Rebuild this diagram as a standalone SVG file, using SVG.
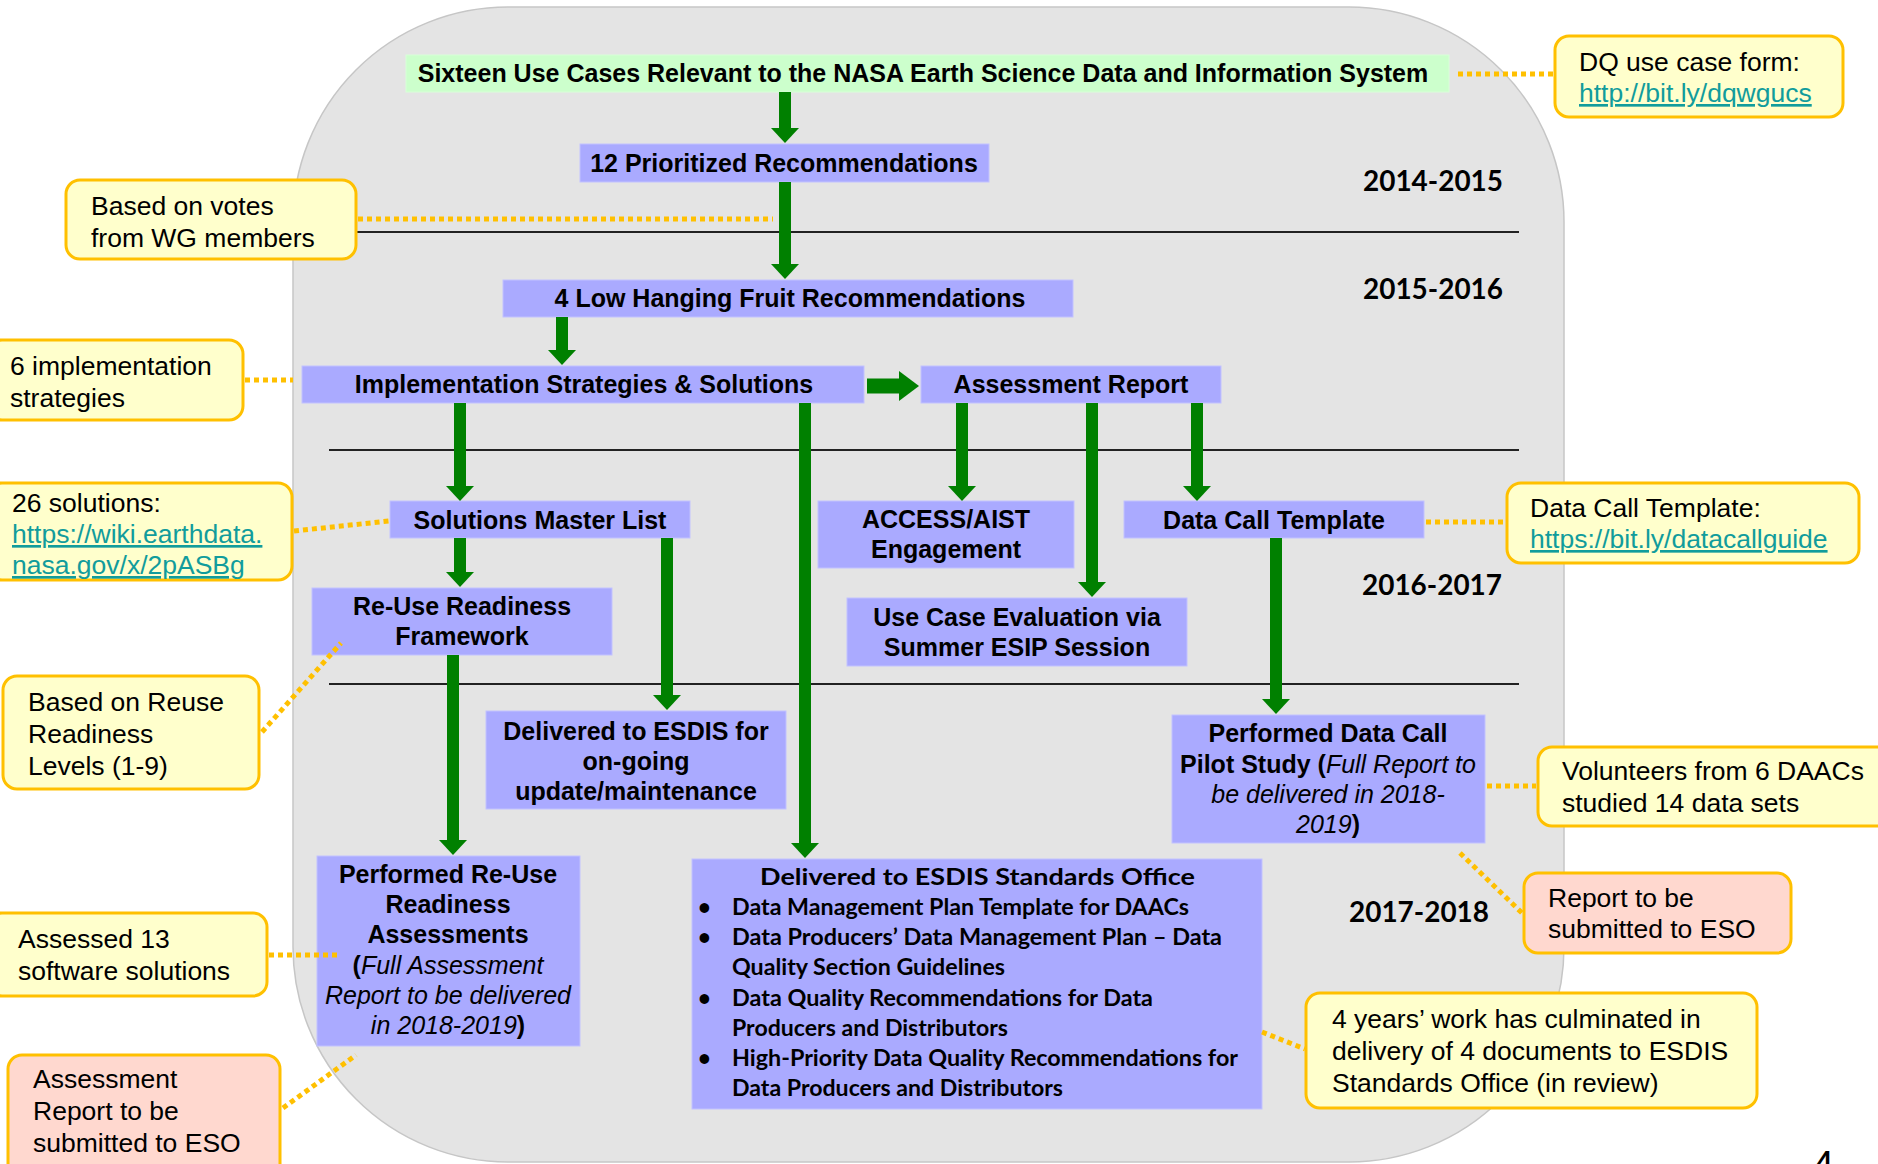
<svg xmlns="http://www.w3.org/2000/svg" width="1878" height="1164" viewBox="0 0 1878 1164">
<defs>
<style>
.bg{fill:#e4e4e4;stroke:#c6c6c6;stroke-width:1.5}
.n{fill:#aaaaff;stroke:#c2c2ff;stroke-width:1}
.g{fill:#ccffcc;stroke:#d8ffd8;stroke-width:1}
.t{font-family:"Liberation Sans",Arial,sans-serif;font-weight:bold;font-size:25px;fill:#000;text-anchor:middle}
.it{font-style:italic;font-weight:normal}
.c{fill:#ffffcc;stroke:#ffc000;stroke-width:3}
.p{fill:#ffd8cf;stroke:#ffc000;stroke-width:3}
.ct{font-family:"Liberation Sans",Arial,sans-serif;font-size:26.5px;fill:#000}
.lk{fill:#119c9c;text-decoration:underline}
.dot{stroke:#ffc000;stroke-width:5;stroke-dasharray:5 4;fill:none}
.ar{stroke:#008000;stroke-width:12;fill:none;marker-end:url(#ah)}
.ar2{stroke:#008000;stroke-width:15;fill:none;marker-end:url(#ah2)}
.hl{stroke:#222;stroke-width:2}
.yr{font-family:Lato,"Liberation Sans",sans-serif;font-weight:bold;font-size:29px;fill:#000;text-anchor:middle}
.cal{font-family:Lato,"Liberation Sans",sans-serif;font-weight:bold;font-size:22px;fill:#000}
</style>
<marker id="ah" markerUnits="userSpaceOnUse" viewBox="0 0 15 28" markerWidth="15" markerHeight="28" refX="0" refY="14" orient="auto"><path d="M0,0 L15,14 L0,28 Z" fill="#008000"/></marker>
<marker id="ah2" markerUnits="userSpaceOnUse" viewBox="0 0 20 30" markerWidth="20" markerHeight="30" refX="0" refY="15" orient="auto"><path d="M0,0 L20,15 L0,30 Z" fill="#008000"/></marker>
</defs>

<rect class="bg" x="293" y="7" width="1271" height="1155" rx="215" ry="215"/>

<g id="dividers">
<line class="hl" x1="357" y1="232" x2="1519" y2="232"/>
<line class="hl" x1="329" y1="450" x2="1519" y2="450"/>
<line class="hl" x1="329" y1="684" x2="1519" y2="684"/>
</g>

<g id="years">
<text class="yr" x="1433" y="191" textLength="140" lengthAdjust="spacingAndGlyphs">2014-2015</text>
<text class="yr" x="1433" y="299" textLength="140" lengthAdjust="spacingAndGlyphs">2015-2016</text>
<text class="yr" x="1432" y="595" textLength="140" lengthAdjust="spacingAndGlyphs">2016-2017</text>
<text class="yr" x="1419" y="922" textLength="140" lengthAdjust="spacingAndGlyphs">2017-2018</text>
</g>

<g id="n-usecases"><rect class="g" x="406" y="55" width="1043" height="37"/><text class="t" x="923" y="82">Sixteen Use Cases Relevant to the NASA Earth Science Data and Information System</text></g>
<g id="n-12rec"><rect class="n" x="580" y="144" width="409" height="38"/><text class="t" x="784" y="172">12 Prioritized Recommendations</text></g>
<g id="n-4low"><rect class="n" x="503" y="280" width="570" height="37"/><text class="t" x="790" y="307">4 Low Hanging Fruit Recommendations</text></g>
<g id="n-impl"><rect class="n" x="302" y="366" width="562" height="37"/><text class="t" x="584" y="393">Implementation Strategies &amp; Solutions</text></g>
<g id="n-assess"><rect class="n" x="921" y="366" width="300" height="37"/><text class="t" x="1071" y="393">Assessment Report</text></g>
<g id="n-solutions"><rect class="n" x="390" y="501" width="300" height="37"/><text class="t" x="540" y="529">Solutions Master List</text></g>
<g id="n-access"><rect class="n" x="818" y="501" width="256" height="67"/><text class="t" x="946" y="528">ACCESS/AIST</text><text class="t" x="946" y="558">Engagement</text></g>
<g id="n-dct"><rect class="n" x="1124" y="501" width="300" height="37"/><text class="t" x="1274" y="529">Data Call Template</text></g>
<g id="n-reuse"><rect class="n" x="312" y="588" width="300" height="67"/><text class="t" x="462" y="615">Re-Use Readiness</text><text class="t" x="462" y="645">Framework</text></g>
<g id="n-ucesip"><rect class="n" x="847" y="598" width="340" height="68"/><text class="t" x="1017" y="626">Use Case Evaluation via</text><text class="t" x="1017" y="656">Summer ESIP Session</text></g>
<g id="n-esdis-maint"><rect class="n" x="486" y="711" width="300" height="98"/><text class="t" x="636" y="740">Delivered to ESDIS for</text><text class="t" x="636" y="770">on-going</text><text class="t" x="636" y="800">update/maintenance</text></g>
<g id="n-datacall"><rect class="n" x="1172" y="715" width="313" height="128"/>
<text class="t" x="1328" y="742">Performed Data Call</text>
<text class="t" x="1328" y="773">Pilot Study (<tspan class="it">Full Report to</tspan></text>
<text class="t it" x="1328" y="803">be delivered in 2018-</text>
<text class="t" x="1328" y="833"><tspan class="it">2019</tspan>)</text></g>
<g id="n-reuse-assess"><rect class="n" x="317" y="856" width="263" height="190"/>
<text class="t" x="448" y="883">Performed Re-Use</text>
<text class="t" x="448" y="913">Readiness</text>
<text class="t" x="448" y="943">Assessments</text>
<text class="t" x="448" y="974">(<tspan class="it">Full Assessment</tspan></text>
<text class="t it" x="448" y="1004">Report to be delivered</text>
<text class="t" x="448" y="1034"><tspan class="it">in 2018-2019</tspan>)</text></g>
<g id="n-eso"><rect class="n" x="692" y="859" width="570" height="250"/>
<text class="cal" x="760" y="885" font-size="23" textLength="435" lengthAdjust="spacingAndGlyphs">Delivered to ESDIS Standards Office</text>
<text class="cal" x="698" y="915">•</text><text class="cal" x="732" y="915" textLength="457" lengthAdjust="spacingAndGlyphs">Data Management Plan Template for DAACs</text>
<text class="cal" x="698" y="945">•</text><text class="cal" x="732" y="945" textLength="490" lengthAdjust="spacingAndGlyphs">Data Producers’ Data Management Plan – Data</text>
<text class="cal" x="732" y="975" textLength="273" lengthAdjust="spacingAndGlyphs">Quality Section Guidelines</text>
<text class="cal" x="698" y="1006">•</text><text class="cal" x="732" y="1006" textLength="421" lengthAdjust="spacingAndGlyphs">Data Quality Recommendations for Data</text>
<text class="cal" x="732" y="1036" textLength="276" lengthAdjust="spacingAndGlyphs">Producers and Distributors</text>
<text class="cal" x="698" y="1066">•</text><text class="cal" x="732" y="1066" textLength="506" lengthAdjust="spacingAndGlyphs">High-Priority Data Quality Recommendations for</text>
<text class="cal" x="732" y="1096" textLength="331" lengthAdjust="spacingAndGlyphs">Data Producers and Distributors</text></g>

<g id="callouts">
<g id="c-dq"><rect class="c" x="1555" y="36" width="288" height="81" rx="14"/><text class="ct" x="1579" y="71">DQ use case form:</text><text class="ct lk" x="1579" y="102">http://bit.ly/dqwgucs</text></g>
<g id="c-votes"><rect class="c" x="66" y="180" width="290" height="79" rx="14"/><text class="ct" x="91" y="215">Based on votes</text><text class="ct" x="91" y="247">from WG members</text></g>
<g id="c-impl"><rect class="c" x="-12" y="340" width="255" height="80" rx="14"/><text class="ct" x="10" y="375">6 implementation</text><text class="ct" x="10" y="407">strategies</text></g>
<g id="c-sol"><rect class="c" x="-12" y="483" width="304" height="97" rx="14"/><text class="ct" x="12" y="512">26 solutions:</text><text class="ct lk" x="12" y="543">https://wiki.earthdata.</text><text class="ct lk" x="12" y="574">nasa.gov/x/2pASBg</text></g>
<g id="c-rrl"><rect class="c" x="3" y="676" width="256" height="113" rx="14"/><text class="ct" x="28" y="711">Based on Reuse</text><text class="ct" x="28" y="743">Readiness</text><text class="ct" x="28" y="775">Levels (1-9)</text></g>
<g id="c-assessed"><rect class="c" x="-12" y="913" width="279" height="83" rx="14"/><text class="ct" x="18" y="948">Assessed 13</text><text class="ct" x="18" y="980">software solutions</text></g>
<g id="c-arep"><rect class="p" x="8" y="1055" width="272" height="125" rx="14"/><text class="ct" x="33" y="1088">Assessment</text><text class="ct" x="33" y="1120">Report to be</text><text class="ct" x="33" y="1152">submitted to ESO</text></g>
<g id="c-dct"><rect class="c" x="1507" y="483" width="352" height="80" rx="14"/><text class="ct" x="1530" y="517">Data Call Template:</text><text class="ct lk" x="1530" y="548">https://bit.ly/datacallguide</text></g>
<g id="c-vol"><rect class="c" x="1538" y="747" width="360" height="79" rx="14"/><text class="ct" x="1562" y="780">Volunteers from 6 DAACs</text><text class="ct" x="1562" y="812">studied 14 data sets</text></g>
<g id="c-rep"><rect class="p" x="1524" y="873" width="267" height="80" rx="14"/><text class="ct" x="1548" y="907">Report to be</text><text class="ct" x="1548" y="938">submitted to ESO</text></g>
<g id="c-4yr"><rect class="c" x="1306" y="993" width="451" height="115" rx="14"/><text class="ct" x="1332" y="1028">4 years’ work has culminated in</text><text class="ct" x="1332" y="1060">delivery of 4 documents to ESDIS</text><text class="ct" x="1332" y="1092">Standards Office (in review)</text></g>
</g>

<g id="connectors">
<line class="ar" x1="785" y1="92" x2="785" y2="128"/>
<line class="ar" x1="785" y1="182" x2="785" y2="264"/>
<line class="ar" x1="562" y1="317" x2="562" y2="350"/>
<line class="ar" x1="460" y1="403" x2="460" y2="486"/>
<line class="ar" x1="805" y1="403" x2="805" y2="843"/>
<line class="ar" x1="962" y1="403" x2="962" y2="486"/>
<line class="ar" x1="1092" y1="403" x2="1092" y2="582"/>
<line class="ar" x1="1197" y1="403" x2="1197" y2="486"/>
<line class="ar" x1="460" y1="538" x2="460" y2="572"/>
<line class="ar" x1="667" y1="538" x2="667" y2="695"/>
<line class="ar" x1="1276" y1="538" x2="1276" y2="699"/>
<line class="ar" x1="453" y1="655" x2="453" y2="840"/>
<line class="ar2" x1="867" y1="386" x2="899" y2="386"/>
<line class="dot" x1="1458" y1="74" x2="1553" y2="74"/>
<line class="dot" x1="358" y1="219" x2="773" y2="219"/>
<line class="dot" x1="245" y1="380" x2="293" y2="380"/>
<line class="dot" x1="294" y1="531" x2="389" y2="521"/>
<line class="dot" x1="262" y1="732" x2="341" y2="643"/>
<line class="dot" x1="269" y1="955" x2="341" y2="955"/>
<line class="dot" x1="283" y1="1108" x2="356" y2="1055"/>
<line class="dot" x1="1426" y1="522" x2="1505" y2="522"/>
<line class="dot" x1="1487" y1="786" x2="1536" y2="786"/>
<line class="dot" x1="1460" y1="853" x2="1522" y2="913"/>
<line class="dot" x1="1262" y1="1032" x2="1305" y2="1049"/>
</g>

<text x="1812" y="1179" font-family="Liberation Sans, Arial, sans-serif" font-size="40" fill="#000">4</text>
</svg>
